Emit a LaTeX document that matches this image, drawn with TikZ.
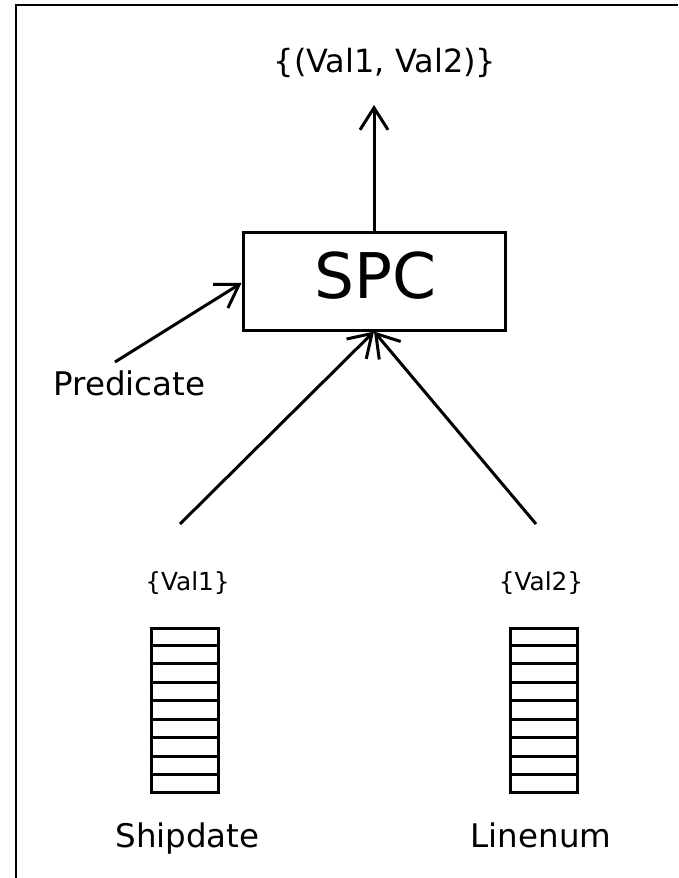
\documentclass[tikz,border=0pt]{standalone}
\usepackage{fontspec}
\setmainfont{DejaVu Sans}
\usetikzlibrary{arrows.meta,calc}
\begin{document}
\begin{tikzpicture}[x=1pt,y=-1pt,
  line width=3pt,
  arr/.style={-{Straight Barb[length=22pt,width=28pt,line width=3pt]}},
  lbl/.style={inner sep=0pt,anchor=base},
  colbox/.style={draw,rectangle,minimum width=67pt,minimum height=164pt,inner sep=0pt},
  spcbox/.style={draw,rectangle,minimum width=262pt,minimum height=98pt,inner sep=0pt}]
\useasboundingbox (0,0) rectangle (678,878);
% frame
\draw[line width=2.2pt] (16,878) -- (16,5) -- (678,5);
% SPC
\node[spcbox] (spc) at (374,281) {};
\node[lbl] (spct) at (375,298) {\fontsize{63}{72}\selectfont SPC};
% output
\node[lbl] (out) at (385,72) {\fontsize{32}{38}\selectfont \{(Val1, Val2)\}};
\coordinate (outtip) at (374,105);
\draw[arr] (spc.north) -- (outtip);
% predicate
\node[lbl,anchor=base west] (pred) at (52,395) {\fontsize{32.5}{38}\selectfont Predicate};
\coordinate (predstart) at (115,362);
\draw[arr] (predstart) -- (spc.west |- 0,283);
% columns
\node[colbox] (c1) at (184.5,710) {};
\node[colbox] (c2) at (543.5,710) {};
\foreach \c in {c1,c2}{
  \foreach \i in {1,...,8}{
    \draw ($(\c.north west)!\i/9!(\c.south west)$) -- ($(\c.north east)!\i/9!(\c.south east)$);
  }
}
\node[lbl] (v1) at (187.5,590) {\fontsize{24.8}{30}\selectfont \{Val1\}};
\node[lbl] (v2) at (541,590) {\fontsize{24.8}{30}\selectfont \{Val2\}};
\node[lbl] (ship) at (187.5,847) {\fontsize{32.5}{38}\selectfont Shipdate};
\node[lbl] (line) at (541,847) {\fontsize{32.5}{38}\selectfont Linenum};
\coordinate (s1) at (180,524);
\coordinate (s2) at (536,524);
\draw[arr] (s1) -- (spc.south);
\draw[arr] (s2) -- (spc.south);
\end{tikzpicture}
\end{document}
